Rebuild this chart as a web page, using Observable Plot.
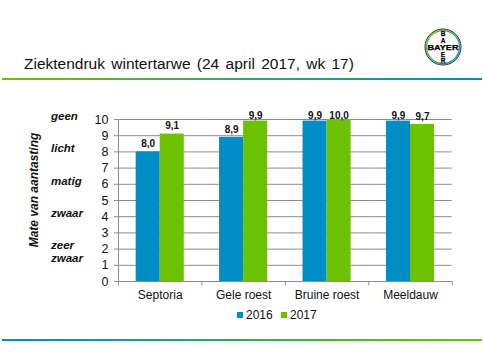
<!DOCTYPE html>
<html lang="nl">
<head>
<meta charset="utf-8">
<script src="https://cdn.jsdelivr.net/npm/d3@7"></script>
<script src="https://cdn.jsdelivr.net/npm/@observablehq/plot@0.6"></script>
<style>
html,body{margin:0;padding:0;background:#fff;}
body{width:483px;height:357px;position:relative;overflow:hidden;font-family:"Liberation Sans",Arial,sans-serif;color:#111;}
#chart{position:absolute;left:0;top:0;}
.abs{position:absolute;white-space:nowrap;}
.sev{font-size:11.5px;font-weight:bold;font-style:italic;line-height:13px;left:51px;}
.leg{font-size:12px;line-height:14px;}
.sw{position:absolute;width:6px;height:6px;top:312px;}
</style>
</head>
<body>
<div id="chart"></div>
<div class="abs" id="title" style="left:24px;top:54px;font-size:15.5px;line-height:19px;word-spacing:2px;">Ziektendruk wintertarwe (24 april 2017, wk 17)</div>
<div class="abs" style="left:2px;top:78px;width:480px;height:2px;background:linear-gradient(90deg,#6cc200,#008cc4);"></div>
<div class="abs" style="left:2px;top:339px;width:480px;height:2px;background:linear-gradient(90deg,#008cc4,#6cc200);"></div>
<svg class="abs" style="left:424px;top:28px;" width="38" height="38" viewBox="0 0 38 38">
  <defs><linearGradient id="ring" x1="0" y1="0" x2="1" y2="1"><stop offset="0" stop-color="#6cc200"/><stop offset="1" stop-color="#008cc4"/></linearGradient></defs>
  <circle cx="19" cy="19" r="18" fill="#fff" stroke="#222" stroke-width="1"/>
  <circle cx="19" cy="19" r="16.5" fill="none" stroke="url(#ring)" stroke-width="1.4"/>
  <g font-family="Liberation Sans,Arial,sans-serif" font-weight="bold" font-size="6.5" fill="#000" stroke="#000" stroke-width="0.25" text-anchor="middle">
    <text x="19" y="21.5" font-size="7" textLength="31" lengthAdjust="spacingAndGlyphs">BAYER</text>
    <text x="19" y="8.2">B</text><text x="19" y="14.6">A</text>
    <text x="19" y="28.6">E</text><text x="19" y="35">R</text>
  </g>
</svg>
<div class="abs" style="left:33.5px;top:189.5px;font-size:12px;font-weight:bold;font-style:italic;transform:translate(-50%,-50%) rotate(-90deg);">Mate van aantasting</div>
<div class="abs sev" style="top:110px;">geen</div>
<div class="abs sev" style="top:142px;">licht</div>
<div class="abs sev" style="top:175px;">matig</div>
<div class="abs sev" style="top:207px;">zwaar</div>
<div class="abs sev" style="top:239px;">zeer<br>zwaar</div>
<div class="sw" style="left:237px;background:#008cc4;"></div>
<div class="abs leg" style="left:246px;top:308px;">2016</div>
<div class="sw" style="left:281px;background:#6cc200;"></div>
<div class="abs leg" style="left:290px;top:308px;">2017</div>
<script>
const categories = ["Septoria", "Gele roest", "Bruine roest", "Meeldauw"];
const years = ["2016", "2017"];
const values2016 = [8.0, 8.9, 9.9, 9.9];
const values2017 = [9.1, 9.9, 10.0, 9.7];
const yTicks = [0, 1, 2, 3, 4, 5, 6, 7, 8, 9, 10];
const colors = ["#008cc4", "#6cc200"];

const rows = categories.flatMap((c, i) => [
  {category: c, year: years[0], value: values2016[i]},
  {category: c, year: years[1], value: values2017[i]}
]);
const grey = "#8c8c8c";
const fmt = d => d.toFixed(1).replace(".", ",");
const barOffset = (451.7 - 118) / 4 / 2 - 12; // from the centre of a bar to the edge of its category band
const labelCeiling = 9.73; // the top labels sit level with one another, as in the reference

const chart = Plot.plot({
  width: 483, height: 357,
  marginLeft: 118, marginRight: 31.3, marginTop: 119, marginBottom: 76,
  style: {fontFamily: '"Liberation Sans",Arial,sans-serif', background: "transparent", color: "#111"},
  fx: {domain: categories, padding: 0, round: false, label: null},
  x: {domain: years, paddingInner: 0, paddingOuter: 0.735, round: false, label: null, axis: null},
  y: {domain: [0, 10], label: null},
  color: {domain: years, range: colors},
  marks: [
    Plot.gridY(yTicks, {stroke: grey, strokeOpacity: 1}),
    Plot.axisY(yTicks, {tickSize: 4, tickPadding: 6, fontSize: 12.5, stroke: grey, label: null, tickFormat: d => String(d), fill: "#111"}),
    Plot.axisFx({anchor: "bottom", tickSize: 0, tickPadding: 9, fontSize: 12, label: null, fill: "#111"}),
    // boundary ticks under each category, and the vertical axis line
    Plot.ruleX(categories, {fx: d => d, x: () => years[0], dx: -barOffset, y1: () => -0.27, y2: d => d === categories[0] ? 10 : 0, stroke: grey, strokeOpacity: 1}),
    Plot.ruleX(categories.slice(-1), {fx: d => d, x: () => years[1], dx: barOffset, y1: -0.27, y2: 0, stroke: grey, strokeOpacity: 1}),
    Plot.barY(rows, {fx: "category", x: "year", y: "value", fill: "year"}),
    Plot.text(rows, {fx: "category", x: "year", y: d => Math.min(d.value, labelCeiling), text: d => fmt(d.value), dy: -8, fontSize: 10, fontWeight: "bold", fill: "#111"})
  ]
});
document.getElementById("chart").append(chart);
</script>
</body>
</html>
